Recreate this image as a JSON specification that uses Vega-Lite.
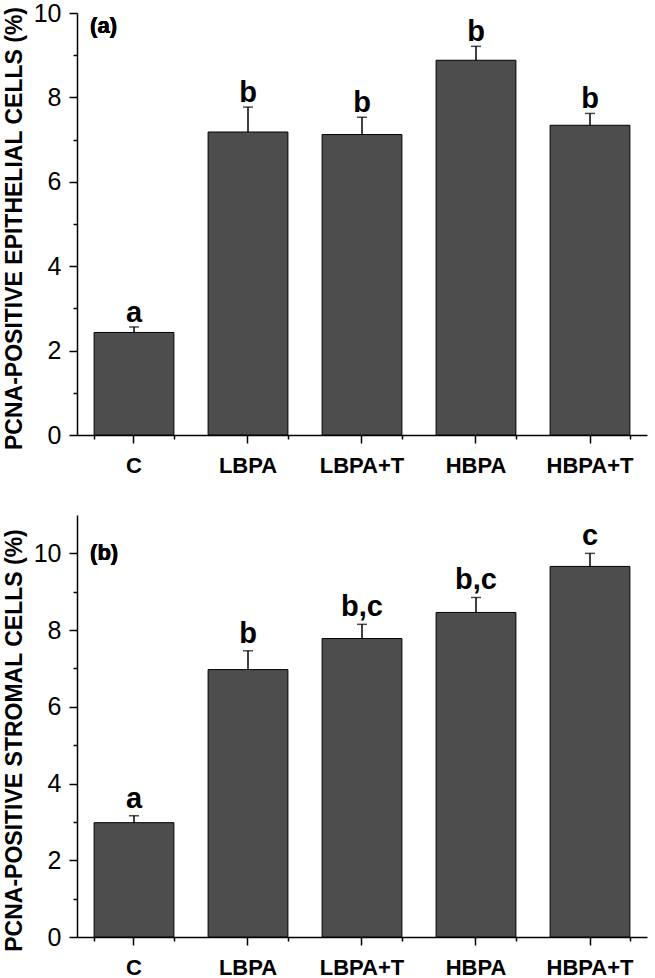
{
  "$schema": "https://vega.github.io/schema/vega-lite/v6.json",
  "padding": {"left": 3, "top": 1, "right": 5, "bottom": 0},
  "background": "#ffffff",
  "spacing": 39,
  "config": {
    "view": {"stroke": null},
    "font": "Liberation Sans",
    "axis": {
      "domainColor": "#000000", "domainWidth": 1.5,
      "tickColor": "#000000", "tickWidth": 1.5,
      "labelColor": "#000000", "titleColor": "#000000",
      "labelFont": "Liberation Sans", "titleFont": "Liberation Sans",
      "grid": false
    }
  },
  "datasets": {
    "a": [
      {"group": "C", "value": 2.43, "upper": 2.56, "letter": "a"},
      {"group": "LBPA", "value": 7.18, "upper": 7.77, "letter": "b"},
      {"group": "LBPA+T", "value": 7.12, "upper": 7.53, "letter": "b"},
      {"group": "HBPA", "value": 8.88, "upper": 9.21, "letter": "b"},
      {"group": "HBPA+T", "value": 7.34, "upper": 7.62, "letter": "b"}
    ],
    "b": [
      {"group": "C", "value": 2.98, "upper": 3.16, "letter": "a"},
      {"group": "LBPA", "value": 6.97, "upper": 7.46, "letter": "b"},
      {"group": "LBPA+T", "value": 7.78, "upper": 8.15, "letter": "b,c"},
      {"group": "HBPA", "value": 8.46, "upper": 8.85, "letter": "b,c"},
      {"group": "HBPA+T", "value": 9.66, "upper": 10.0, "letter": "c"}
    ]
  },
  "vconcat": [
    {
      "width": 570, "height": 422,
      "data": {"name": "a"},
      "resolve": {"axis": {"x": "independent", "y": "independent"}},
      "layer": [
        {
          "mark": {"type": "bar", "fill": "#4d4d4d", "stroke": "#000000", "strokeWidth": 1},
          "encoding": {
            "x": {"field": "group", "type": "nominal", "sort": ["C", "LBPA", "LBPA+T", "HBPA", "HBPA+T"],
              "scale": {"paddingInner": 0.3, "paddingOuter": 0.15},
              "axis": {"orient": "bottom", "title": null, "labelAngle": 0, "labelFontSize": 22, "labelFontWeight": "bold", "labelPadding": 12, "tickSize": 8}},
            "y": {"field": "value", "type": "quantitative", "scale": {"domain": [0, 10], "nice": false},
              "axis": {"values": [0, 1, 2, 3, 4, 5, 6, 7, 8, 9, 10],
                "labelExpr": "datum.value % 2 === 0 ? datum.label : ''",
                "tickSize": {"condition": {"test": "datum.value % 2 === 1", "value": 4}, "value": 8},
                "labelFontSize": 25, "labelPadding": 8,
                "title": "PCNA-POSITIVE EPITHELIAL CELLS (%)", "titleFontSize": 23, "titleFontWeight": "bold", "titlePadding": 7, "titleY": 215}}
          }
        },
        {
          "mark": {"type": "rule", "color": "#000000", "strokeWidth": 1.5},
          "encoding": {
            "x": {"field": "group", "type": "nominal", "sort": ["C", "LBPA", "LBPA+T", "HBPA", "HBPA+T"], "axis": null},
            "y": {"field": "value", "type": "quantitative", "axis": null},
            "y2": {"field": "upper"}
          }
        },
        {
          "mark": {"type": "tick", "color": "#000000", "size": 10, "thickness": 1.5},
          "encoding": {
            "x": {"field": "group", "type": "nominal", "sort": ["C", "LBPA", "LBPA+T", "HBPA", "HBPA+T"],
              "axis": {"orient": "bottom", "title": null, "labels": false, "domain": false, "tickBand": "extent", "tickSize": 4}},
            "y": {"field": "upper", "type": "quantitative", "axis": null}
          }
        },
        {
          "mark": {"type": "text", "baseline": "alphabetic", "dy": -5, "fontSize": 29, "fontWeight": "bold", "color": "#000000"},
          "encoding": {
            "x": {"field": "group", "type": "nominal", "sort": ["C", "LBPA", "LBPA+T", "HBPA", "HBPA+T"], "axis": null},
            "y": {"field": "upper", "type": "quantitative", "axis": null},
            "text": {"field": "letter"}
          }
        },
        {
          "mark": {"type": "text", "align": "left", "baseline": "middle", "dx": -4, "fontSize": 22, "fontWeight": "bold", "color": "#000000"},
          "encoding": {
            "x": {"datum": "C", "type": "nominal", "bandPosition": 0, "axis": null},
            "y": {"datum": 9.7, "type": "quantitative", "axis": null},
            "text": {"value": "(a)"}
          }
        }
      ]
    },
    {
      "width": 570, "height": 422,
      "data": {"name": "b"},
      "resolve": {"axis": {"x": "independent", "y": "independent"}},
      "layer": [
        {
          "mark": {"type": "bar", "fill": "#4d4d4d", "stroke": "#000000", "strokeWidth": 1},
          "encoding": {
            "x": {"field": "group", "type": "nominal", "sort": ["C", "LBPA", "LBPA+T", "HBPA", "HBPA+T"],
              "scale": {"paddingInner": 0.3, "paddingOuter": 0.15},
              "axis": {"orient": "bottom", "title": null, "labelAngle": 0, "labelFontSize": 22, "labelFontWeight": "bold", "labelPadding": 12, "tickSize": 8}},
            "y": {"field": "value", "type": "quantitative", "scale": {"domain": [0, 11], "nice": false},
              "axis": {"values": [0, 1, 2, 3, 4, 5, 6, 7, 8, 9, 10],
                "labelExpr": "datum.value % 2 === 0 ? datum.label : ''",
                "tickSize": {"condition": {"test": "datum.value % 2 === 1", "value": 4}, "value": 8},
                "labelFontSize": 25, "labelPadding": 8,
                "title": "PCNA-POSITIVE STROMAL CELLS (%)", "titleFontSize": 23, "titleFontWeight": "bold", "titlePadding": 7, "titleY": 225}}
          }
        },
        {
          "mark": {"type": "rule", "color": "#000000", "strokeWidth": 1.5},
          "encoding": {
            "x": {"field": "group", "type": "nominal", "sort": ["C", "LBPA", "LBPA+T", "HBPA", "HBPA+T"], "axis": null},
            "y": {"field": "value", "type": "quantitative", "axis": null},
            "y2": {"field": "upper"}
          }
        },
        {
          "mark": {"type": "tick", "color": "#000000", "size": 10, "thickness": 1.5},
          "encoding": {
            "x": {"field": "group", "type": "nominal", "sort": ["C", "LBPA", "LBPA+T", "HBPA", "HBPA+T"],
              "axis": {"orient": "bottom", "title": null, "labels": false, "domain": false, "tickBand": "extent", "tickSize": 4}},
            "y": {"field": "upper", "type": "quantitative", "axis": null}
          }
        },
        {
          "mark": {"type": "text", "baseline": "alphabetic", "dy": -8, "fontSize": 29, "fontWeight": "bold", "color": "#000000"},
          "encoding": {
            "x": {"field": "group", "type": "nominal", "sort": ["C", "LBPA", "LBPA+T", "HBPA", "HBPA+T"], "axis": null},
            "y": {"field": "upper", "type": "quantitative", "axis": null},
            "text": {"field": "letter"}
          }
        },
        {
          "mark": {"type": "text", "align": "left", "baseline": "middle", "dx": -4, "fontSize": 22, "fontWeight": "bold", "color": "#000000"},
          "encoding": {
            "x": {"datum": "C", "type": "nominal", "bandPosition": 0, "axis": null},
            "y": {"datum": 10.0, "type": "quantitative", "axis": null},
            "text": {"value": "(b)"}
          }
        }
      ]
    }
  ]
}
